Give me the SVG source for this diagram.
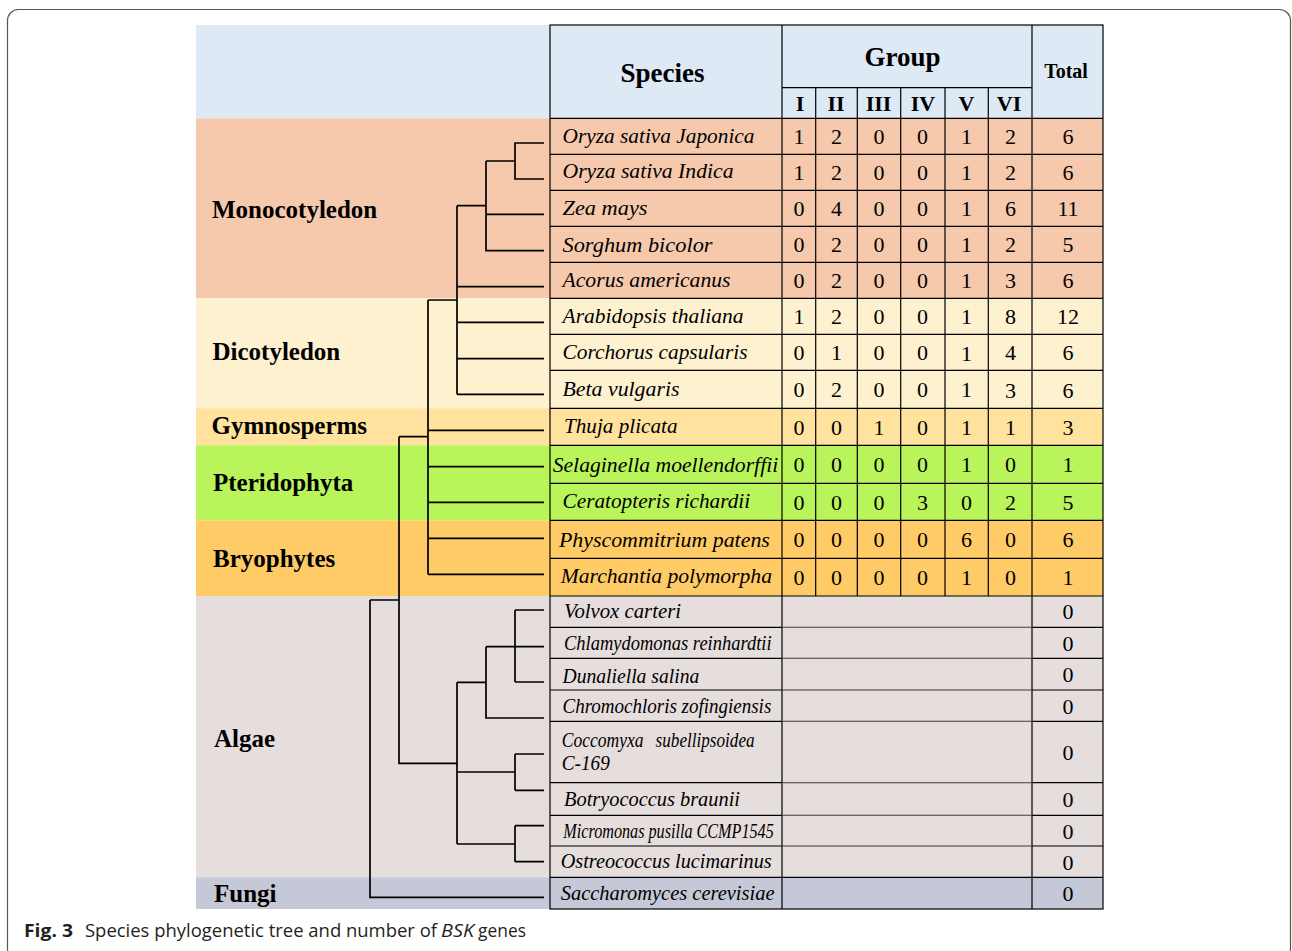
<svg xmlns="http://www.w3.org/2000/svg" width="1292" height="951" viewBox="0 0 1292 951">
<style>
.serif{font-family:"Liberation Serif","Times New Roman",serif;fill:#000}
.sp{font-family:"Liberation Serif","Times New Roman",serif;font-style:italic;font-size:22px;fill:#000}
.spa{font-family:"Liberation Serif","Times New Roman",serif;font-style:italic;font-size:20.5px;fill:#000}
.num{font-family:"Liberation Serif","Times New Roman",serif;font-size:22px;text-anchor:middle;fill:#000}
.clade{font-family:"Liberation Serif","Times New Roman",serif;font-weight:bold;font-size:25px;fill:#000}
.hdr{font-family:"Liberation Serif","Times New Roman",serif;font-weight:bold;text-anchor:middle;fill:#000}
.tree{fill:none;stroke:#000;stroke-width:1.7}
.grid{fill:none;stroke:#000;stroke-width:1.2}
.gridm{fill:none;stroke:#3c3c3c;stroke-width:1.1}
.cap{font-family:"Open Sans","Noto Sans",sans-serif;font-size:18.5px;fill:#231f20}
</style>
<rect x="7.5" y="9.5" width="1283" height="950" rx="11" fill="#fff" stroke="#555" stroke-width="1.2"/>
<g id="bands">
<rect x="196" y="25" width="907" height="93.3" fill="#DDE9F5"/>
<rect x="196" y="118.3" width="907" height="180" fill="#F6C9AC"/>
<rect x="196" y="298.3" width="907" height="110" fill="#FEF1D0"/>
<rect x="196" y="408.3" width="907" height="37" fill="#FEE29D"/>
<rect x="196" y="445.3" width="907" height="75" fill="#B9F55A"/>
<rect x="196" y="520.3" width="907" height="75.7" fill="#FECB66"/>
<rect x="196" y="596" width="907" height="281.3" fill="#E6DDDD"/>
<rect x="196" y="877.3" width="907" height="31.7" fill="#C5C8D7"/>
</g>
<g id="grid">
<rect class="grid" x="550" y="25" width="553" height="884"/>
<path class="grid" d="M782,25V909M1032,25V909M782,87.7H1032M815.7,87.7V596M857.3,87.7V596M900.7,87.7V596M945,87.7V596M988.3,87.7V596"/>
<path class="grid" d="M550,118.3H1103M550,154.3H1103M550,190.3H1103M550,226.3H1103M550,262.3H1103M550,298.3H1103M550,334.3H1103M550,370.3H1103M550,408.3H1103M550,445.3H1103M550,483.3H1103M550,520.3H1103M550,558.3H1103M550,596H1103M550,877.3H1103"/>
<path class="grid" d="M550,627.3H782M1032,627.3H1103M550,658.3H782M1032,658.3H1103M550,690H782M1032,690H1103M550,721.3H782M1032,721.3H1103M550,782.7H782M1032,782.7H1103M550,815.3H782M1032,815.3H1103M550,846H782M1032,846H1103"/>
<path class="gridm" d="M782,627.3H1032M782,658.3H1032M782,690H1032M782,721.3H1032M782,782.7H1032M782,815.3H1032M782,846H1032"/>
</g>
<g id="header">
<text class="hdr" x="662.5" y="81.7" font-size="27">Species</text>
<text class="hdr" x="902.5" y="66" font-size="27">Group</text>
<text class="hdr" x="1066" y="78.3" font-size="20">Total</text>
<text class="hdr" x="800" y="110.7" font-size="22">I</text>
<text class="hdr" x="836" y="110.7" font-size="22">II</text>
<text class="hdr" x="878.5" y="110.7" font-size="22">III</text>
<text class="hdr" x="923" y="110.7" font-size="22">IV</text>
<text class="hdr" x="966.5" y="110.7" font-size="22">V</text>
<text class="hdr" x="1009" y="110.7" font-size="22">VI</text>
</g>
<g id="clades">
<text id="clade-monocotyledon" class="clade" x="212" y="218.3">Monocotyledon</text>
<text id="clade-dicotyledon" class="clade" x="212.5" y="360">Dicotyledon</text>
<text id="clade-gymnosperms" class="clade" x="211.5" y="434.3">Gymnosperms</text>
<text id="clade-pteridophyta" class="clade" x="213" y="491">Pteridophyta</text>
<text id="clade-bryophytes" class="clade" x="213" y="566.7">Bryophytes</text>
<text id="clade-algae" class="clade" x="214" y="747.3">Algae</text>
<text id="clade-fungi" class="clade" x="214" y="901.7">Fungi</text>
</g>
<g id="connectors">
<path class="tree" d="M544,143H515V179H544M515,161H486M544,214.3H486M544,250.7H486V161M486,205.7H457"/>
<path class="tree" d="M457,205.7V394.3M457,286.7H544M457,322.3H544M457,358.7H544M457,394.3H544M428,300H457"/>
<path class="tree" d="M428,300V574.3M428,430.3H544M428,466.7H544M428,502.3H544M428,538.3H544M428,574.3H544M399,436.7H428"/>
<path class="tree" d="M399,436.7V763.3H457M370,600H399M370,600V897.3H544"/>
<path class="tree" d="M457,682.3V844M457,682.3H486M457,772H515M457,844H515"/>
<path class="tree" d="M486,646.7V718H544M486,646.7H515"/>
<path class="tree" d="M515,610V682M515,610H544M515,646.7H544M515,682H544"/>
<path class="tree" d="M515,754V790.3M515,754H544M515,790.3H544"/>
<path class="tree" d="M515,825.7V861.7M515,825.7H544M515,861.7H544"/>
</g>
<g id="row-oryza-japonica"><text class="sp" x="562.5" y="143.3" textLength="192" lengthAdjust="spacingAndGlyphs">Oryza sativa Japonica</text>
<text class="num" x="799" y="144">1</text><text class="num" x="836.5" y="144">2</text><text class="num" x="879" y="144">0</text><text class="num" x="922.5" y="144">0</text><text class="num" x="966.5" y="144">1</text><text class="num" x="1010.5" y="144">2</text><text class="num" x="1068" y="144">6</text></g>
<g id="row-oryza-indica"><text class="sp" x="562.5" y="178.3" textLength="171" lengthAdjust="spacingAndGlyphs">Oryza sativa Indica</text>
<text class="num" x="799" y="180">1</text><text class="num" x="836.5" y="180">2</text><text class="num" x="879" y="180">0</text><text class="num" x="922.5" y="180">0</text><text class="num" x="966.5" y="180">1</text><text class="num" x="1010.5" y="180">2</text><text class="num" x="1068" y="180">6</text></g>
<g id="row-zea-mays"><text class="sp" x="562.5" y="215" textLength="85" lengthAdjust="spacingAndGlyphs">Zea mays</text>
<text class="num" x="799" y="216">0</text><text class="num" x="836.5" y="216">4</text><text class="num" x="879" y="216">0</text><text class="num" x="922.5" y="216">0</text><text class="num" x="966.5" y="216">1</text><text class="num" x="1010.5" y="216">6</text><text class="num" x="1068" y="216">11</text></g>
<g id="row-sorghum-bicolor"><text class="sp" x="562.5" y="251.7" textLength="150" lengthAdjust="spacingAndGlyphs">Sorghum bicolor</text>
<text class="num" x="799" y="252">0</text><text class="num" x="836.5" y="252">2</text><text class="num" x="879" y="252">0</text><text class="num" x="922.5" y="252">0</text><text class="num" x="966.5" y="252">1</text><text class="num" x="1010.5" y="252">2</text><text class="num" x="1068" y="252">5</text></g>
<g id="row-acorus-americanus"><text class="sp" x="562.5" y="286.7" textLength="168" lengthAdjust="spacingAndGlyphs">Acorus americanus</text>
<text class="num" x="799" y="288">0</text><text class="num" x="836.5" y="288">2</text><text class="num" x="879" y="288">0</text><text class="num" x="922.5" y="288">0</text><text class="num" x="966.5" y="288">1</text><text class="num" x="1010.5" y="288">3</text><text class="num" x="1068" y="288">6</text></g>
<g id="row-arabidopsis-thaliana"><text class="sp" x="562.5" y="323.3" textLength="181" lengthAdjust="spacingAndGlyphs">Arabidopsis thaliana</text>
<text class="num" x="799" y="324">1</text><text class="num" x="836.5" y="324">2</text><text class="num" x="879" y="324">0</text><text class="num" x="922.5" y="324">0</text><text class="num" x="966.5" y="324">1</text><text class="num" x="1010.5" y="324">8</text><text class="num" x="1068" y="324">12</text></g>
<g id="row-corchorus-capsularis"><text class="sp" x="562.5" y="359" textLength="185" lengthAdjust="spacingAndGlyphs">Corchorus capsularis</text>
<text class="num" x="799" y="360">0</text><text class="num" x="836.5" y="360">1</text><text class="num" x="879" y="360">0</text><text class="num" x="922.5" y="360">0</text><text class="num" x="966.5" y="361">1</text><text class="num" x="1010.5" y="360">4</text><text class="num" x="1068" y="360">6</text></g>
<g id="row-beta-vulgaris"><text class="sp" x="562.5" y="396" textLength="117" lengthAdjust="spacingAndGlyphs">Beta vulgaris</text>
<text class="num" x="799" y="397">0</text><text class="num" x="836.5" y="397">2</text><text class="num" x="879" y="397">0</text><text class="num" x="922.5" y="397">0</text><text class="num" x="966.5" y="397">1</text><text class="num" x="1010.5" y="398">3</text><text class="num" x="1068" y="398">6</text></g>
<g id="row-thuja-plicata"><text class="sp" x="564" y="433.3" textLength="113.5" lengthAdjust="spacingAndGlyphs">Thuja plicata</text>
<text class="num" x="799" y="434.5">0</text><text class="num" x="836.5" y="434.5">0</text><text class="num" x="879" y="434.5">1</text><text class="num" x="922.5" y="434.5">0</text><text class="num" x="966.5" y="434.5">1</text><text class="num" x="1010.5" y="434.5">1</text><text class="num" x="1068" y="434.5">3</text></g>
<g id="row-selaginella-moellendorffii"><text class="sp" x="552.7" y="471.7" textLength="225.5" lengthAdjust="spacingAndGlyphs">Selaginella moellendorffii</text>
<text class="num" x="799" y="472">0</text><text class="num" x="836.5" y="472">0</text><text class="num" x="879" y="472">0</text><text class="num" x="922.5" y="472">0</text><text class="num" x="966.5" y="472">1</text><text class="num" x="1010.5" y="472">0</text><text class="num" x="1068" y="472">1</text></g>
<g id="row-ceratopteris-richardii"><text class="sp" x="562.5" y="508.3" textLength="187.7" lengthAdjust="spacingAndGlyphs">Ceratopteris richardii</text>
<text class="num" x="799" y="509.5">0</text><text class="num" x="836.5" y="509.5">0</text><text class="num" x="879" y="509.5">0</text><text class="num" x="922.5" y="509.5">3</text><text class="num" x="966.5" y="509.5">0</text><text class="num" x="1010.5" y="509.5">2</text><text class="num" x="1068" y="509.5">5</text></g>
<g id="row-physcommitrium-patens"><text class="sp" x="558.9" y="546.7" textLength="211" lengthAdjust="spacingAndGlyphs">Physcommitrium patens</text>
<text class="num" x="799" y="547">0</text><text class="num" x="836.5" y="547">0</text><text class="num" x="879" y="547">0</text><text class="num" x="922.5" y="547">0</text><text class="num" x="966.5" y="547">6</text><text class="num" x="1010.5" y="547">0</text><text class="num" x="1068" y="547">6</text></g>
<g id="row-marchantia-polymorpha"><text class="sp" x="560.7" y="583.3" textLength="211.3" lengthAdjust="spacingAndGlyphs">Marchantia polymorpha</text>
<text class="num" x="799" y="585">0</text><text class="num" x="836.5" y="585">0</text><text class="num" x="879" y="585">0</text><text class="num" x="922.5" y="585">0</text><text class="num" x="966.5" y="585">1</text><text class="num" x="1010.5" y="585">0</text><text class="num" x="1068" y="585">1</text></g>
<g id="row-volvox-carteri"><text class="spa" x="564" y="618.3" textLength="117" lengthAdjust="spacingAndGlyphs">Volvox carteri</text><text class="num" x="1068" y="619">0</text></g>
<g id="row-chlamydomonas-reinhardtii"><text class="spa" x="564" y="650" textLength="207.6" lengthAdjust="spacingAndGlyphs">Chlamydomonas reinhardtii</text><text class="num" x="1068" y="650.5">0</text></g>
<g id="row-dunaliella-salina"><text class="spa" x="562.5" y="682.7" textLength="136.8" lengthAdjust="spacingAndGlyphs">Dunaliella salina</text><text class="num" x="1068" y="682">0</text></g>
<g id="row-chromochloris-zofingiensis"><text class="spa" x="562.5" y="712.7" textLength="208.8" lengthAdjust="spacingAndGlyphs">Chromochloris zofingiensis</text><text class="num" x="1068" y="713.5">0</text></g>
<g id="row-coccomyxa-subellipsoidea"><text class="spa" x="561.8" y="746.7" textLength="81.8" lengthAdjust="spacingAndGlyphs">Coccomyxa</text><text class="spa" x="655.6" y="746.7" textLength="99" lengthAdjust="spacingAndGlyphs">subellipsoidea</text><text class="spa" x="561.8" y="770" textLength="48" lengthAdjust="spacingAndGlyphs">C-169</text><text class="num" x="1068" y="759.5">0</text></g>
<g id="row-botryococcus-braunii"><text class="spa" x="564" y="806" textLength="176" lengthAdjust="spacingAndGlyphs">Botryococcus braunii</text><text class="num" x="1068" y="807">0</text></g>
<g id="row-micromonas-pusilla"><text class="spa" x="563.3" y="837.7" textLength="210.5" lengthAdjust="spacingAndGlyphs">Micromonas pusilla CCMP1545</text><text class="num" x="1068" y="838.5">0</text></g>
<g id="row-ostreococcus-lucimarinus"><text class="spa" x="560.7" y="868.3" textLength="211" lengthAdjust="spacingAndGlyphs">Ostreococcus lucimarinus</text><text class="num" x="1068" y="869.5">0</text></g>
<g id="row-saccharomyces-cerevisiae"><text class="spa" x="560.7" y="900" textLength="213.8" lengthAdjust="spacingAndGlyphs">Saccharomyces cerevisiae</text><text class="num" x="1068" y="901">0</text></g>
<g id="caption">
<text class="cap" x="24" y="937" font-weight="bold" textLength="49" lengthAdjust="spacingAndGlyphs">Fig. 3</text>
<text class="cap" x="85" y="937" textLength="352" lengthAdjust="spacingAndGlyphs">Species phylogenetic tree and number of</text>
<text class="cap" x="441" y="937" font-style="italic" textLength="33" lengthAdjust="spacingAndGlyphs">BSK</text>
<text class="cap" x="478" y="937" textLength="48" lengthAdjust="spacingAndGlyphs">genes</text>
</g>
</svg>
